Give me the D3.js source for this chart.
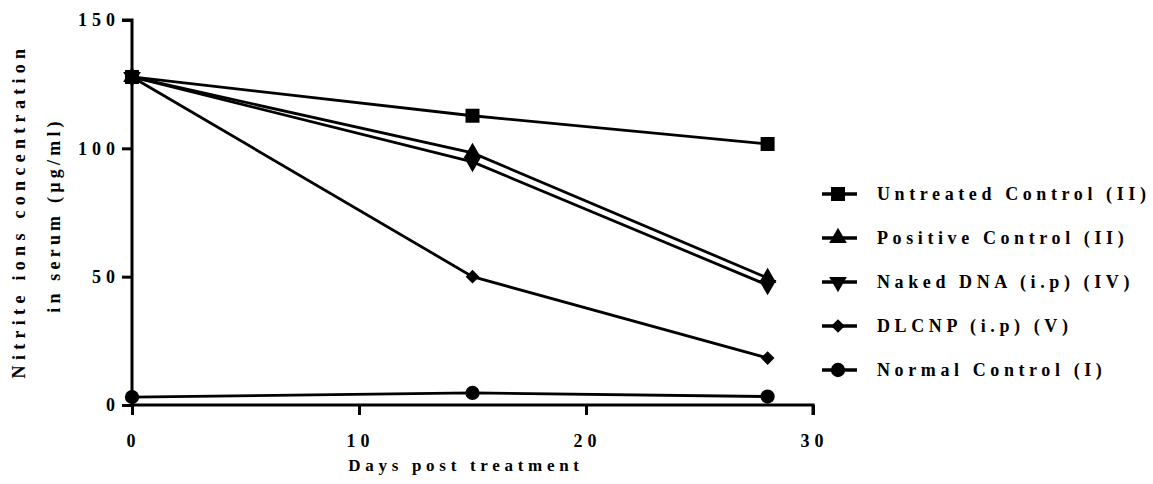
<!DOCTYPE html>
<html>
<head>
<meta charset="utf-8">
<script src="https://cdn.jsdelivr.net/npm/d3@7"></script>
<style>
	body {margin:0; background:#fff;}
	text {font-family:"Liberation Serif","Times New Roman",serif; font-weight:bold; fill:#000;}
</style>
</head>
<body>
<div id="chart"></div>
<script>
(function(){
	var days = [0, 15, 28];
	var seriesNames = ['Untreated Control (II)', 'Positive Control (II)', 'Naked DNA (i.p) (IV)', 'DLCNP (i.p) (V)', 'Normal Control (I)'];
	var untreated = [127.8, 112.7, 101.7];
	var positive = [127.8, 98.2, 49.5];
	var naked = [127.8, 94.7, 46.7];
	var dlcnp = [127.8, 50, 18.3];
	var normal = [3.1, 4.7, 3.3];
	var xTicks = [0, 10, 20, 30];
	var yTicks = [0, 50, 100, 150];

	var series = [untreated, positive, naked, dlcnp, normal];
	var symbols = [d3.symbolSquare, d3.symbolTriangle, d3.symbolTriangle, d3.symbolDiamond2, d3.symbolCircle];
	var sizes = [196, 135, 135, 120, 160];
	var rot = [0, 0, 180, 0, 0];

	var width = 1153, height = 484;
	var x = d3.scaleLinear().domain([0, 30]).range([132, 813]);
	var y = d3.scaleLinear().domain([0, 150]).range([405, 20]);

	var svg = d3.select('#chart').append('svg')
		.attr('width', width)
		.attr('height', height);

	// axes
	var yAxis = svg.append('g')
		.attr('transform', 'translate(' + x(0) + ',0)')
		.call(d3.axisLeft(y).tickValues(yTicks).tickSize(10).tickPadding(6));
	var xAxis = svg.append('g')
		.attr('transform', 'translate(0,' + y(0) + ')')
		.call(d3.axisBottom(x).tickValues(xTicks).tickSize(10).tickPadding(19));

	[xAxis, yAxis].forEach(function(g) {
		g.select('.domain').attr('stroke', '#000').attr('stroke-width', 3);
		g.selectAll('.tick line').attr('stroke', '#000').attr('stroke-width', 3);
		g.selectAll('.tick text')
			.style('font-family', '"Liberation Serif", serif')
			.style('font-weight', 'bold')
			.style('font-size', '18px')
			.attr('fill', '#000')
			.attr('letter-spacing', '5px');
	});
	yAxis.select('.domain').attr('d', 'M-10,' + y(150) + 'H0V' + y(0));
	xAxis.select('.domain').attr('d', 'M' + x(0) + ',0H' + x(30) + 'V10');
	yAxis.selectAll('.tick text').attr('dx', '4px');
	xAxis.selectAll('.tick text').attr('dx', '1px');

	// lines
	var line = d3.line()
		.x(function(d, i) {return x(days[i]);})
		.y(function(d) {return y(d);});

	svg.append('g').selectAll('path')
		.data(series)
		.enter().append('path')
			.attr('d', line)
			.attr('fill', 'none')
			.attr('stroke', '#000')
			.attr('stroke-width', 2.8);

	// markers, drawn last series first so the square stays on top
	series.slice().reverse().forEach(function(s, j) {
		var k = series.length - 1 - j;
		svg.append('g').selectAll('path')
			.data(s)
			.enter().append('path')
				.attr('d', d3.symbol().type(symbols[k]).size(sizes[k]))
				.attr('transform', function(d, i) {
					return 'translate(' + x(days[i]) + ',' + y(d) + ') rotate(' + rot[k] + ')';
				})
				.attr('fill', '#000');
	});

	// legend
	var legend = svg.append('g').selectAll('g')
		.data(seriesNames)
		.enter().append('g')
			.attr('transform', function(d, i) {return 'translate(838,' + (194 + i * 44) + ')';});

	legend.append('line')
		.attr('x1', -16).attr('x2', 19)
		.attr('stroke', '#000').attr('stroke-width', 3.5);
	legend.append('path')
		.attr('d', function(d, i) {return d3.symbol().type(symbols[i]).size(sizes[i])();})
		.attr('transform', function(d, i) {return 'rotate(' + rot[i] + ')';})
		.attr('fill', '#000');
	legend.append('text')
		.attr('x', 39)
		.attr('dy', '0.35em')
		.attr('font-size', '18px')
		.attr('letter-spacing', '4.6px')
		.text(function(d) {return d;});

	// axis titles
	svg.append('text')
		.attr('x', 466)
		.attr('y', 471)
		.attr('text-anchor', 'middle')
		.attr('font-size', '17px')
		.attr('letter-spacing', '4.7px')
		.text('Days post treatment');

	svg.append('text')
		.attr('transform', 'translate(25,211) rotate(-90)')
		.attr('text-anchor', 'middle')
		.attr('font-size', '18px')
		.attr('letter-spacing', '5.3px')
		.text('Nitrite ions concentration');
	svg.append('text')
		.attr('transform', 'translate(60,215) rotate(-90)')
		.attr('text-anchor', 'middle')
		.attr('font-size', '18px')
		.attr('letter-spacing', '4.2px')
		.text('in serum (\u00b5g/ml)');
})();
</script>
</body>
</html>
